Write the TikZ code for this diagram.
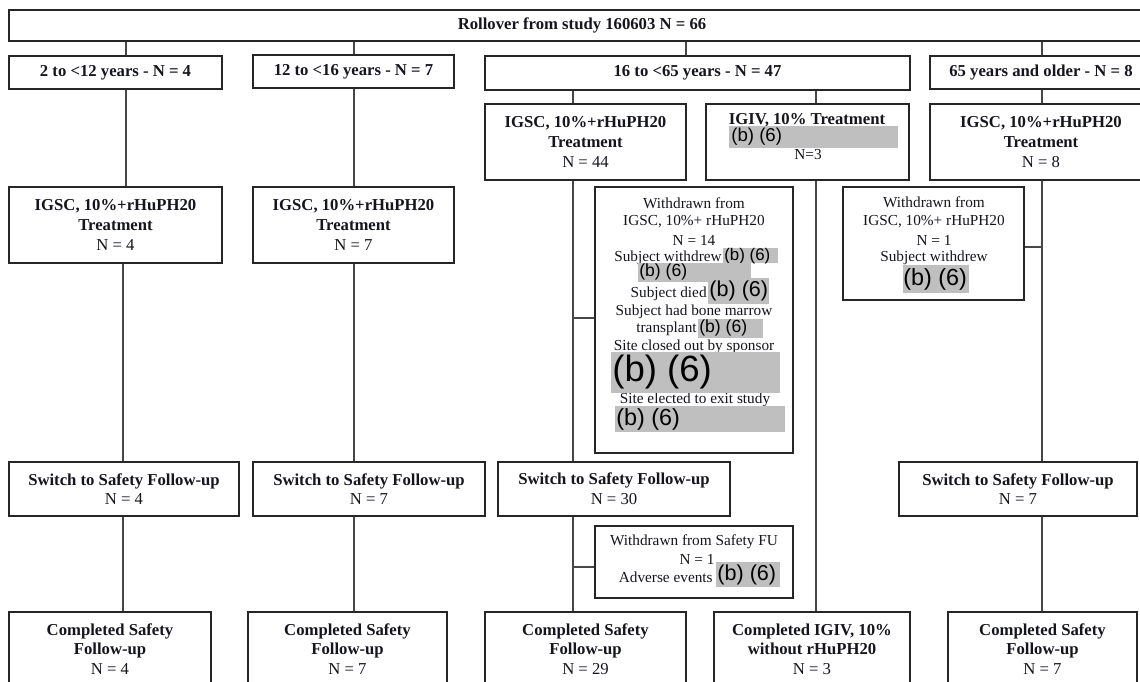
\documentclass[tikz,border=0pt]{standalone}
\usepackage{fontspec}
\setmainfont{Liberation Serif}
\newfontfamily\redfont{Liberation Sans}
\usetikzlibrary{fit}
\definecolor{redact}{HTML}{BFBFBF}
\definecolor{ink}{HTML}{15151F}
\newcommand{\nrm}[1]{{\mdseries #1}}
\newcommand{\rsz}[1]{\redfont\fontsize{#1}{#1}\selectfont}
\tikzset{
  box/.style={draw=black!85, line width=0.8pt, inner sep=0pt},
  conn/.style={draw=black!72, line width=0.6pt},
  bt/.style={font=\fontsize{9.5}{11.2}\selectfont\bfseries, align=center, text=ink, inner sep=0pt},
  rt/.style={font=\fontsize{8.7}{10.2}\selectfont, align=center, text=ink, inner sep=0pt},
  redbox/.style={fill=redact, inner sep=0pt},
  redtxt/.style={inner sep=0pt, anchor=west, text=black},
}
% box with centred bold label: name, corner1, corner2, text
\newcommand{\bbox}[4]{%
  \node[box,fit={#2 #3}] (#1) {};
  \node[bt] (#1-l) at (#1.center) {#4};}
\begin{document}
\begin{tikzpicture}[x=0.02cm,y=-0.02cm]
\clip (0,0) rectangle (1140,681);
\fill[white] (0,0) rectangle (1140,681);

% top and age groups
\bbox{top}{(9,10)}{(1155,41)}{Rollover from study 160603 N = 66}
\bbox{a1}{(9,56)}{(222,89)}{2 to <12 years - N = 4}
\bbox{a2}{(253,55)}{(454,88)}{12 to <16 years - N = 7}
\bbox{a3}{(485,56)}{(910,90)}{16 to <65 years - N = 47}
\bbox{a4}{(930,56)}{(1152,89)}{65 years and older - N = 8}

% treatment
\bbox{t1}{(9,187)}{(222,263)}{IGSC, 10\%+rHuPH20\\Treatment\\\nrm{N = 4}}
\bbox{t2}{(253,187)}{(454,263)}{IGSC, 10\%+rHuPH20\\Treatment\\\nrm{N = 7}}
\bbox{t3}{(485,104)}{(686,180)}{IGSC, 10\%+rHuPH20\\Treatment\\\nrm{N = 44}}
\node[box,fit={(706,104)(909,180)}] (t4) {};
\node[bt] (t4a) at (807,120) {IGIV, 10\% Treatment};
\node[rt] (t4n) at (808,155) {N=3};
\node[redbox,fit={(729,126)(898,148)}] (t4r) {};
\node[redtxt,font=\rsz{10.6}] (t4rt) at (731,137) {(b) (6)};
\bbox{t5}{(930,104)}{(1152,180)}{IGSC, 10\%+rHuPH20\\Treatment\\\nrm{N = 8}}

% withdrawn from IGSC (16 to <65)
\node[box,fit={(595,187)(793,453)}] (w1) {};
\node[rt] (w1a) at (694,203) {Withdrawn from};
\node[rt] (w1b) at (694,222) {IGSC, 10\%+ rHuPH20};
\node[rt] (w1c) at (694,240) {N = 14};
\node[rt,anchor=east] (w1d) at (722,258) {Subject withdrew};
\node[rt,anchor=east] (w1e) at (707,294) {Subject died};
\node[rt] (w1f) at (694,312) {Subject had bone marrow};
\node[rt,anchor=east] (w1g) at (697,329) {transplant};
\node[rt] (w1h) at (694,347) {Site closed out by sponsor};
\node[rt] (w1i) at (695,400) {Site elected to exit study};
\node[redbox,fit={(723,248)(778,263)}] (r1) {};
\node[redtxt,font=\rsz{9.6}] at (724,256) {(b) (6)};
\node[redbox,fit={(638,263)(751,282)}] (r2) {};
\node[redtxt,font=\rsz{10}] at (639,272) {(b) (6)};
\node[redbox,fit={(708,278)(769,304)}] (r3) {};
\node[redtxt,font=\rsz{12.3}] at (709,291) {(b) (6)};
\node[redbox,fit={(698,319)(763,338)}] (r4) {};
\node[redtxt,font=\rsz{10}] at (699,328) {(b) (6)};
\node[redbox,fit={(611,352)(780,393)}] (r5) {};
\node[redtxt,font=\rsz{20.8}] at (612,372) {(b) (6)};
\node[redbox,fit={(615,406)(785,432)}] (r6) {};
\node[redtxt,font=\rsz{13.3}] at (616,419) {(b) (6)};

% withdrawn from IGSC (65+)
\node[box,fit={(843,187)(1024,300)}] (w2) {};
\node[rt] (w2a) at (934,202) {Withdrawn from};
\node[rt] (w2b) at (934,222) {IGSC, 10\%+ rHuPH20};
\node[rt] (w2c) at (934,240) {N = 1};
\node[rt] (w2d) at (934,258) {Subject withdrew};
\node[redbox,fit={(903,265)(969,293)}] (r7) {};
\node[redtxt,font=\rsz{13.3}] at (903,279) {(b) (6)};

% switch to safety follow-up
\bbox{s1}{(9,462)}{(239,516)}{Switch to Safety Follow-up\\\nrm{N = 4}}
\bbox{s2}{(253,462)}{(485,516)}{Switch to Safety Follow-up\\\nrm{N = 7}}
\bbox{s3}{(498,462)}{(730,516)}{Switch to Safety Follow-up\\\nrm{N = 30}}
\bbox{s4}{(899,462)}{(1137,516)}{Switch to Safety Follow-up\\\nrm{N = 7}}

% withdrawn from safety FU
\node[box,fit={(595,526)(793,598)}] (fu) {};
\node[rt] (fua) at (694,542) {Withdrawn from Safety FU};
\node[rt] (fub) at (697,559) {N = 1};
\node[rt,anchor=east] (fuc) at (713,577) {Adverse events};
\node[redbox,fit={(716,562)(780,587)}] (r8) {};
\node[redtxt,font=\rsz{12.3}] at (717,575) {(b) (6)};

% completed
\bbox{c1}{(9,612)}{(211,686)}{Completed Safety\\Follow-up\\\nrm{N = 4}}
\bbox{c2}{(248,612)}{(447,686)}{Completed Safety\\Follow-up\\\nrm{N = 7}}
\bbox{c3}{(485,612)}{(686,686)}{Completed Safety\\Follow-up\\\nrm{N = 29}}
\bbox{c4}{(714,612)}{(910,686)}{Completed IGIV, 10\%\\without rHuPH20\\\nrm{N = 3}}
\bbox{c5}{(948,612)}{(1137,686)}{Completed Safety\\Follow-up\\\nrm{N = 7}}

% connector columns
\coordinate (k0) at (126,0);
\coordinate (k1) at (123,0);
\coordinate (k2) at (354,0);
\coordinate (k3) at (686,0);
\coordinate (k4) at (573,0);
\coordinate (k5) at (816,0);
\coordinate (k6) at (1042,0);
\draw[conn] (top.south -| k0) -- (a1.north -| k0);
\draw[conn] (top.south -| k2) -- (a2.north -| k2);
\draw[conn] (top.south -| k3) -- (a3.north -| k3);
\draw[conn] (top.south -| k6) -- (a4.north -| k6);
\draw[conn] (a1.south -| k0) -- (t1.north -| k0);
\draw[conn] (t1.south -| k1) -- (s1.north -| k1);
\draw[conn] (s1.south -| k1) -- (c1.north -| k1);
\draw[conn] (a2.south -| k2) -- (t2.north -| k2);
\draw[conn] (t2.south -| k2) -- (s2.north -| k2);
\draw[conn] (s2.south -| k2) -- (c2.north -| k2);
\draw[conn] (a3.south -| k4) -- (t3.north -| k4);
\draw[conn] (a3.south -| k5) -- (t4.north -| k5);
\draw[conn] (t3.south -| k4) -- (s3.north -| k4);
\coordinate (j1) at (573,318);
\draw[conn] (j1) -- (w1.west |- j1);
\draw[conn] (s3.south -| k4) -- (c3.north -| k4);
\coordinate (j2) at (573,567);
\draw[conn] (j2) -- (fu.west |- j2);
\draw[conn] (t4.south -| k5) -- (c4.north -| k5);
\draw[conn] (a4.south -| k6) -- (t5.north -| k6);
\draw[conn] (t5.south -| k6) -- (s4.north -| k6);
\coordinate (j3) at (1042,247);
\draw[conn] (j3) -- (w2.east |- j3);
\draw[conn] (s4.south -| k6) -- (c5.north -| k6);
\end{tikzpicture}
\end{document}
